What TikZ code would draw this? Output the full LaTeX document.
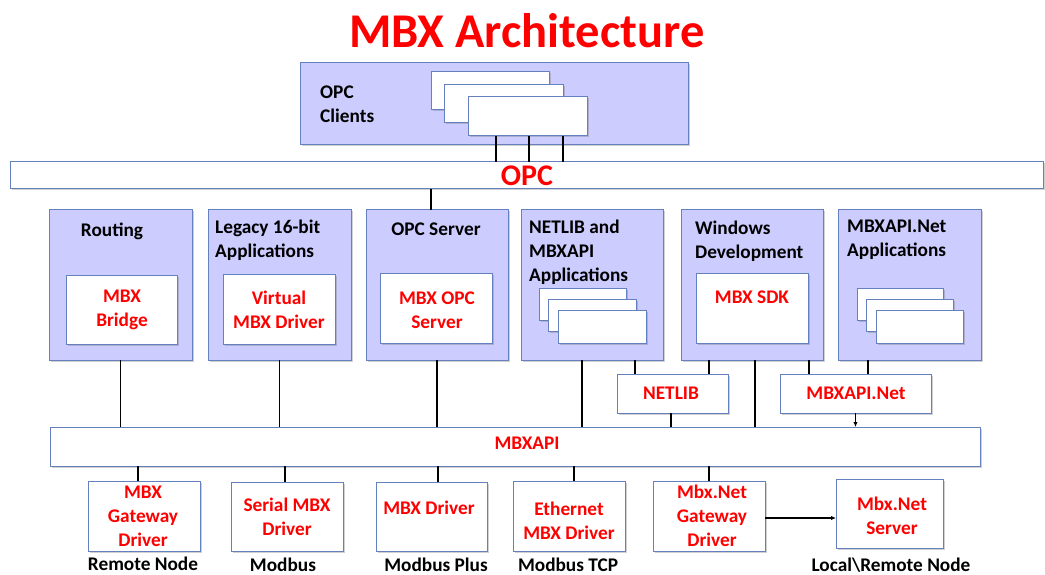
\documentclass[tikz,border=0pt]{standalone}
\usepackage{fontspec}
\setmainfont{Carlito}
\usetikzlibrary{shadows,arrows.meta}
\definecolor{bfill}{RGB}{204,204,255}
\definecolor{bline}{RGB}{100,128,190}
\definecolor{tred}{RGB}{255,0,0}
\begin{document}
\begin{tikzpicture}[x=1pt,y=-1pt,
  base/.style={draw=bline,line width=1pt,anchor=north west,inner sep=0pt,outer sep=0pt,
    drop shadow={shadow xshift=1.5pt,shadow yshift=-1.5pt,opacity=0.3,fill=black!60}},
  panel/.style={base,fill=bfill},
  wbox/.style={base,fill=white},
  mtxt/.style={font=\bfseries\fontsize{19.3}{24}\selectfont,inner sep=0pt,align=center},
  txt/.style={mtxt,text height=13pt,text depth=4pt},
  rtxt/.style={txt,text=tred},
  rmtxt/.style={mtxt,text=tred},
  conn/.style={draw=black,line width=1.2pt},
  arr/.style={conn,-{Latex[length=5pt,width=4.5pt]}}]
\useasboundingbox (0,0) rectangle (1045,575);

% title
\node[font=\bfseries\fontsize{48.5}{50}\selectfont,text=tred,inner sep=0pt] (title) at (527,31) {MBX Architecture};

% OPC clients
\node[panel,minimum width=388pt,minimum height=82pt] (clients) at (300,63) {};
\node[mtxt,align=left,anchor=west] (tclients) at (320,104) {OPC\\Clients};
\node[wbox,minimum width=118pt,minimum height=38pt] (c1) at (431,72) {};
\node[wbox,minimum width=119pt,minimum height=38pt] (c2) at (444,85) {};
\node[wbox,minimum width=119pt,minimum height=39pt] (c3) at (468,97) {};

% OPC bar
\node[wbox,minimum width=1033pt,minimum height=27pt] (opc) at (10,162) {};
\node[font=\bfseries\fontsize{30}{32}\selectfont,text=tred,inner sep=0pt] (topc) at (527,176) {OPC};

% panels row
\node[panel,minimum width=143pt,minimum height=150pt] (routing) at (49,210) {};
\node[panel,minimum width=143pt,minimum height=150pt] (legacy) at (208,210) {};
\node[panel,minimum width=142pt,minimum height=150pt] (opcsrv) at (366,210) {};
\node[panel,minimum width=142pt,minimum height=150pt] (netapp) at (521,210) {};
\node[panel,minimum width=142pt,minimum height=150pt] (windev) at (681,210) {};
\node[panel,minimum width=143pt,minimum height=150pt] (netnapp) at (838,210) {};

\node[txt] (trouting) at (112,232) {Routing};
\node[mtxt,align=left,anchor=west] (tlegacy) at (215,240) {Legacy 16-bit\\Applications};
\node[txt] (topcsrv) at (436,231) {OPC Server};
\node[mtxt,align=left,anchor=west] (tnetapp) at (529,252) {NETLIB and\\MBXAPI\\Applications};
\node[mtxt,align=left,anchor=west] (twindev) at (695,241) {Windows\\Development};
\node[mtxt,align=left,anchor=west] (tnetnapp) at (847,240) {MBXAPI.Net\\Applications};

% inner boxes
\node[wbox,minimum width=111pt,minimum height=69pt] (bridge) at (66,275) {};
\node[rmtxt] (tbridge) at (122,310) {MBX\\Bridge};
\node[wbox,minimum width=112pt,minimum height=70pt] (virt) at (223,274) {};
\node[rmtxt] (tvirt) at (279,310) {Virtual\\MBX Driver};
\node[wbox,minimum width=112pt,minimum height=70pt] (mopc) at (380,273) {};
\node[rmtxt] (tmopc) at (437,310) {MBX OPC\\Server};
\node[wbox,minimum width=112pt,minimum height=70pt] (sdk) at (696,273) {};
\node[rtxt] (tsdk) at (752,299) {MBX SDK};

\node[wbox,minimum width=87pt,minimum height=32pt] (n1) at (539,288) {};
\node[wbox,minimum width=88pt,minimum height=32pt] (n2) at (548,299) {};
\node[wbox,minimum width=88pt,minimum height=33pt] (n3) at (558,310) {};
\node[wbox,minimum width=86pt,minimum height=32pt] (m1) at (857,288) {};
\node[wbox,minimum width=87pt,minimum height=32pt] (m2) at (866,299) {};
\node[wbox,minimum width=87pt,minimum height=33pt] (m3) at (876,310) {};

% small library boxes
\node[wbox,minimum width=111pt,minimum height=39pt] (netlib) at (617,374) {};
\node[rtxt] (tnetlib) at (671,395) {NETLIB};
\node[wbox,minimum width=151pt,minimum height=39pt] (mnet) at (780,374) {};
\node[rtxt] (tmnet) at (856,395) {MBXAPI.Net};

% MBXAPI bar
\node[wbox,minimum width=930pt,minimum height=39pt] (api) at (50,427) {};
\node[rtxt] (tapi) at (527,445) {MBXAPI};

% bottom boxes
\node[wbox,minimum width=112pt,minimum height=70pt] (gw) at (88,481) {};
\node[rmtxt] (tgw) at (143,516) {MBX\\Gateway\\Driver};
\node[wbox,minimum width=112pt,minimum height=69pt] (serial) at (231,482) {};
\node[rmtxt] (tserial) at (287,517) {Serial MBX\\Driver};
\node[wbox,minimum width=111pt,minimum height=69pt] (drv) at (376,482) {};
\node[rtxt] (tdrv) at (429,510) {MBX Driver};
\node[wbox,minimum width=112pt,minimum height=70pt] (eth) at (513,481) {};
\node[rmtxt] (teth) at (569,521) {Ethernet\\MBX Driver};
\node[wbox,minimum width=112pt,minimum height=70pt] (ngw) at (653,481) {};
\node[rmtxt] (tngw) at (712,516) {Mbx.Net\\Gateway\\Driver};
\node[wbox,minimum width=107pt,minimum height=69pt] (nsrv) at (836,479) {};
\node[rmtxt] (tnsrv) at (892,516) {Mbx.Net\\Server};

% bottom labels
\node[txt] (lgw) at (143,566) {Remote Node};
\node[txt] (lserial) at (283,566.5) {Modbus};
\node[txt] (ldrv) at (436,566.5) {Modbus Plus};
\node[txt] (leth) at (568,566.5) {Modbus TCP};
\node[txt] (lnsrv) at (891,566.5) {Local\textbackslash Remote Node};

% connectors: clients to OPC
\foreach \dx in {28,61,95}
  \draw[conn] ([xshift=\dx pt]c3.south west) -- ([xshift=\dx pt]c3.south west |- opc.north);
\draw[conn] ([xshift=-6pt]opcsrv.north) -- ([xshift=-6pt]opcsrv.north |- opc.south);

% panels to MBXAPI
\draw[conn] (routing.south) -- (routing.south |- api.north);
\draw[conn] (legacy.south) -- (legacy.south |- api.north);
\draw[conn] (opcsrv.south) -- (opcsrv.south |- api.north);
\draw[conn] ([xshift=-10pt]netapp.south) -- ([xshift=-10pt]netapp.south |- api.north);
\draw[conn] ([xshift=43pt]netapp.south) -- ([xshift=43pt]netapp.south |- netlib.north);
\draw[conn] ([xshift=-43pt]windev.south) -- ([xshift=-43pt]windev.south |- netlib.north);
\draw[conn] ([xshift=3pt]windev.south) -- ([xshift=3pt]windev.south |- api.north);
\draw[conn] ([xshift=57pt]windev.south) -- ([xshift=57pt]windev.south |- mnet.north);
\draw[conn] ([xshift=-41.5pt]netnapp.south) -- ([xshift=-41.5pt]netnapp.south |- mnet.north);
\draw[conn] ([xshift=-1.5pt]netlib.south) -- ([xshift=-1.5pt]netlib.south |- api.north);
\draw[arr] (mnet.south) -- (mnet.south |- api.north);

% MBXAPI to drivers
\draw[conn] ([xshift=-6pt]gw.north) -- ([xshift=-6pt]gw.north |- api.south);
\draw[conn] ([xshift=-2pt]serial.north) -- ([xshift=-2pt]serial.north |- api.south);
\draw[conn] ([xshift=6.5pt]drv.north) -- ([xshift=6.5pt]drv.north |- api.south);
\draw[conn] ([xshift=5pt]eth.north) -- ([xshift=5pt]eth.north |- api.south);
\draw[conn] (ngw.north) -- (ngw.north |- api.south);
\draw[arr] ([yshift=-2pt]ngw.east) -- ([yshift=-2pt]ngw.east -| nsrv.west);
\end{tikzpicture}
\end{document}
